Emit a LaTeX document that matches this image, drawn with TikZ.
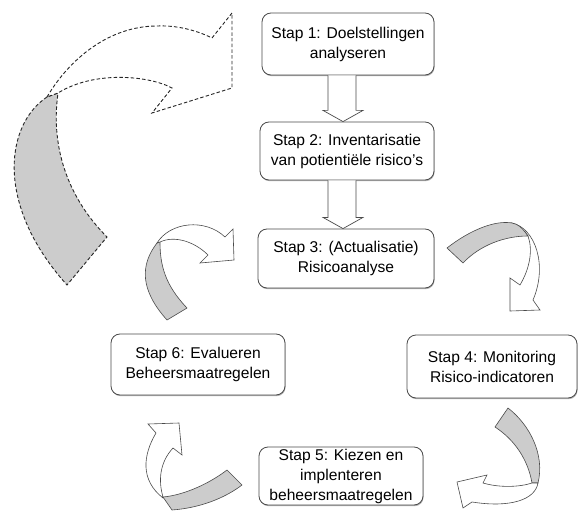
\documentclass[tikz,border=0pt]{standalone}
\usepackage{fontspec}
\setmainfont{Liberation Sans}
\usetikzlibrary{calc,shadows}
\definecolor{edge}{HTML}{4A4A4A}
\definecolor{ribbon}{HTML}{CCCCCC}
\begin{document}
\begin{tikzpicture}[x=1pt,y=-1pt,
  stepbox/.style={draw=edge, line width=0.8pt, fill=white, rounded corners=9pt,
    align=center, inner sep=0pt, font=\fontsize{15.6}{20}\selectfont,
    drop shadow={shadow xshift=0.6pt, shadow yshift=-1.2pt, fill=black!30, opacity=1}},
  blockarrow/.style={draw=edge, line width=0.7pt, fill=white, line join=miter},
  band/.style={draw=edge, line width=0.6pt, line join=miter},
  front/.style={band, fill=white},
  back/.style={band, fill=ribbon},
  dashedband/.style={draw=black!85, line width=0.9pt, dash pattern=on 3.5pt off 2.2pt}
]
\useasboundingbox (0,0) rectangle (579,511);

% process steps
\node[stepbox, minimum width=172pt, minimum height=62pt] (s1) at (348,44)
  {Stap 1: Doelstellingen\\analyseren};
\node[stepbox, minimum width=174pt, minimum height=58pt] (s2) at (347,151)
  {Stap 2: Inventarisatie\\van potienti\"ele risico's};
\node[stepbox, minimum width=176pt, minimum height=59pt] (s3) at (346,258.5)
  {Stap 3: (Actualisatie)\\Risicoanalyse};
\node[stepbox, minimum width=170pt, minimum height=63pt] (s4) at (492,366.5)
  {Stap 4: Monitoring\\Risico-indicatoren};
\node[stepbox, minimum width=164pt, minimum height=58pt] (s5) at (341,476)
  {Stap 5: Kiezen en\\implenteren\\beheersmaatregelen};
\node[stepbox, minimum width=174pt, minimum height=61pt] (s6) at (198,364.5)
  {Stap 6: Evalueren\\Beheersmaatregelen};

% straight block arrows between the first steps
\draw[blockarrow] ($(s1.south)+(-20,0)$) -- ($(s1.south)+(-20,35)$)
  -- ($(s1.south)+(-25,35)$) -- ($(s2.north)+(-4,0)$)
  -- ($(s1.south)+(15,35)$) -- ($(s1.south)+(8,35)$) -- ($(s1.south)+(8,0)$);
\draw[blockarrow] ($(s2.south)+(-19,0)$) -- ($(s2.south)+(-19,37)$)
  -- ($(s2.south)+(-24,37)$) -- ($(s3.north)+(-3,0)$)
  -- ($(s2.south)+(16,37)$) -- ($(s2.south)+(9,37)$) -- ($(s2.south)+(9,0)$);

% large dashed feedback arrow on the left
\draw[dashedband, fill=ribbon] (47,97) .. controls (5,125) and (-5,205) .. (67,285)
  -- (107,237) .. controls (70,200) and (50,150) .. (58,93) -- cycle;
\draw[dashedband, fill=white] (47,97) .. controls (70,58) and (110,26) .. (157,26)
  .. controls (180,25) and (200,32) .. (212,38) -- (232,13) -- (232,88)
  -- (152,113) -- (172,88) .. controls (150,76) and (95,70) .. (58,93) -- cycle;

% curved arrow: step 6 -> step 3
\draw[back] (157,243) .. controls (140,265) and (140,290) .. (167,320)
  -- (187,308) .. controls (165,285) and (160,265) .. (160,242) -- cycle;
\draw[front] (157,243) .. controls (170,222) and (205,218) .. (225,237)
  -- (233,229) -- (234,260) -- (200,263) -- (208,255)
  .. controls (195,242) and (175,235) .. (160,242) -- cycle;

% curved arrow: step 3 -> step 4
\draw[front] (512,223) .. controls (535,228) and (548,265) .. (533,300)
  -- (540,310) -- (510,311) -- (510,278) -- (520,285)
  .. controls (530,268) and (533,250) .. (528,236) -- (525,232) -- cycle;
\draw[back] (447,248) .. controls (470,230) and (495,220) .. (512,223)
  .. controls (518,224) and (522,228) .. (525,232) -- (528,236)
  .. controls (505,236) and (480,245) .. (463,263) -- cycle;

% curved arrow: step 4 -> step 5
\draw[back] (495,427) -- (508,408) .. controls (530,425) and (545,455) .. (538,483)
  -- (532,483) .. controls (528,460) and (515,440) .. (495,427) -- cycle;
\draw[front] (538,483) .. controls (535,500) and (510,508) .. (472,502)
  -- (463,508) -- (457,482) -- (487,475) -- (483,483)
  .. controls (500,488) and (520,487) .. (532,483) -- cycle;

% curved arrow: step 5 -> step 6
\draw[front] (163,498) .. controls (140,480) and (143,455) .. (156,433)
  -- (148,424) -- (179,423) -- (182,455) -- (173,448)
  .. controls (160,462) and (158,480) .. (163,497) -- cycle;
\draw[back] (163,497) .. controls (185,495) and (210,483) .. (227,470)
  -- (242,485) .. controls (225,498) and (200,508) .. (172,510) -- cycle;
\end{tikzpicture}
\end{document}
